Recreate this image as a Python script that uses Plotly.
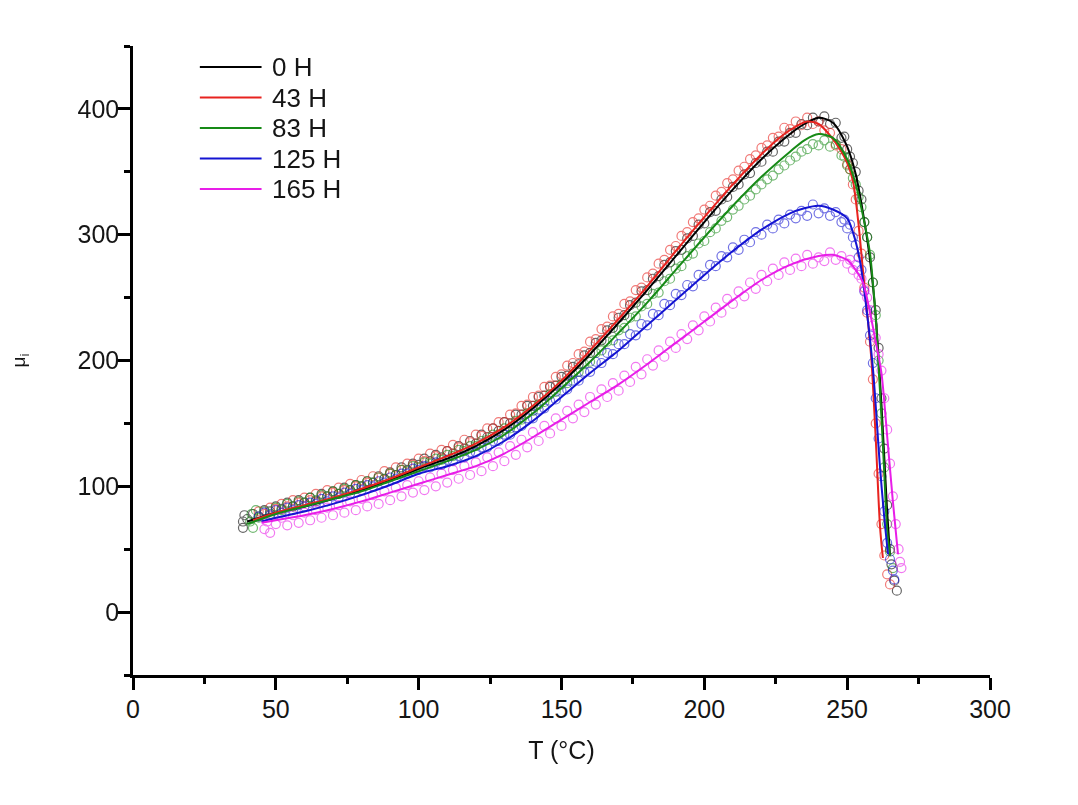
import plotly.graph_objects as go

# ---------------- data ----------------
labels = ["0 H", "43 H", "83 H", "125 H", "165 H"]
colors = ["#000000", "#e8231f", "#178a17", "#1414d2", "#e81ee8"]

# measured points (open circles)
T_0H = [38.5, 38.5, 39, 40, 42, 44, 46, 48, 50, 52, 54, 56, 58, 60, 62, 64, 66, 68, 70, 72, 74, 76, 78, 80, 82, 84, 86, 88, 90, 92, 94, 96, 98, 100, 102, 104, 106, 108, 110, 112, 114, 116, 118, 120, 122, 124, 126, 128, 130, 132, 134, 136, 138, 140, 142, 144, 146, 148, 150, 152, 154, 156, 158, 160, 162, 164, 166, 168, 170, 172, 174, 176, 178, 180, 182, 184, 186, 188, 190, 192, 194, 196, 198, 200, 202, 204, 206, 208, 210, 212, 214, 216, 218, 220, 222, 224, 226, 228, 230, 232, 234, 236, 238, 240, 242, 244, 246, 248, 249, 250, 251, 252, 253, 254, 255, 256, 257, 258, 259, 260, 261, 262, 263, 264, 265, 265.5, 266.5, 267.4]
MU_0H = [67, 72, 77, 74, 78, 76, 81, 80, 84, 82, 87, 84, 89, 87, 91, 88, 94, 92, 96, 94, 99, 97, 101, 100, 104, 103, 108, 106, 111, 109, 115, 113, 118, 117, 122, 120, 125, 123, 128, 126, 132, 130, 136, 134, 141, 139, 146, 144, 151, 150, 157, 157, 164, 164, 171, 172, 179, 180, 187, 188, 195, 197, 204, 206, 214, 216, 224, 226, 234, 236, 244, 246, 255, 256, 265, 267, 276, 278, 287, 288, 297, 299, 308, 309, 318, 319, 328, 330, 338, 340, 348, 349, 357, 358, 366, 366, 374, 374, 381, 381, 388, 387, 393, 390, 394, 388, 389, 377, 378, 368, 362, 357, 350, 335, 328, 310, 298, 282, 262, 240, 210, 170, 130, 85, 50, 38, 25, 17]

T_43H = [44, 46, 48, 50, 52, 54, 56, 58, 60, 62, 64, 66, 68, 70, 72, 74, 76, 78, 80, 82, 84, 86, 88, 90, 92, 94, 96, 98, 100, 102, 104, 106, 108, 110, 112, 114, 116, 118, 120, 122, 124, 126, 128, 130, 132, 134, 136, 138, 140, 142, 144, 146, 148, 150, 152, 154, 156, 158, 160, 162, 164, 166, 168, 170, 172, 174, 176, 178, 180, 182, 184, 186, 188, 190, 192, 194, 196, 198, 200, 202, 204, 206, 208, 210, 212, 214, 216, 218, 220, 222, 224, 226, 228, 230, 232, 234, 236, 238, 240, 242, 244, 246, 248, 250, 251, 252, 253, 254, 255, 256, 257, 258, 259, 260, 261, 262, 263, 264, 265]
MU_43H = [80, 78, 83, 82, 86, 84, 89, 87, 91, 89, 94, 92, 97, 95, 99, 97, 102, 100, 105, 103, 108, 107, 112, 110, 115, 113, 118, 117, 122, 120, 126, 124, 129, 128, 133, 131, 137, 135, 141, 140, 146, 146, 151, 151, 157, 158, 164, 165, 171, 172, 179, 180, 187, 189, 196, 198, 205, 207, 215, 217, 225, 227, 235, 237, 245, 247, 256, 258, 266, 269, 277, 280, 288, 291, 299, 302, 310, 313, 320, 323, 331, 334, 341, 344, 351, 354, 360, 363, 369, 371, 377, 378, 385, 384, 390, 387, 393, 388, 390, 383, 381, 371, 368, 356, 352, 340, 328, 303, 285, 258, 238, 215, 185, 150, 110, 70, 45, 30, 22]

T_83H = [41, 41.5, 42, 43, 44, 46, 48, 50, 52, 54, 56, 58, 60, 62, 64, 66, 68, 70, 72, 74, 76, 78, 80, 82, 84, 86, 88, 90, 92, 94, 96, 98, 100, 102, 104, 106, 108, 110, 112, 114, 116, 118, 120, 122, 124, 126, 128, 130, 132, 134, 136, 138, 140, 142, 144, 146, 148, 150, 152, 154, 156, 158, 160, 162, 164, 166, 168, 170, 172, 174, 176, 178, 180, 182, 184, 186, 188, 190, 192, 194, 196, 198, 200, 202, 204, 206, 208, 210, 212, 214, 216, 218, 220, 222, 224, 226, 228, 230, 232, 234, 236, 238, 240, 242, 244, 246, 248, 249, 250, 251, 252, 253, 254, 255, 256, 257, 258, 259, 260, 261, 262, 263, 264, 265, 266]
MU_83H = [72, 78, 67, 81, 75, 80, 78, 83, 81, 86, 84, 88, 87, 91, 89, 93, 92, 96, 94, 98, 97, 101, 100, 104, 103, 107, 106, 110, 109, 113, 112, 116, 115, 119, 118, 122, 121, 125, 124, 129, 128, 132, 132, 136, 137, 141, 141, 146, 146, 152, 153, 158, 160, 165, 167, 173, 175, 181, 182, 189, 191, 197, 199, 206, 208, 215, 216, 224, 226, 234, 235, 243, 245, 253, 254, 263, 265, 273, 275, 283, 285, 293, 295, 302, 305, 311, 314, 320, 323, 328, 331, 336, 340, 344, 347, 352, 355, 359, 362, 366, 368, 372, 371, 375, 370, 372, 363, 362, 355, 352, 345, 340, 330, 322, 310, 298, 284, 262, 236, 200, 158, 115, 70, 48, 35]

T_125H = [44, 46, 48, 50, 52, 54, 56, 58, 60, 62, 64, 66, 68, 70, 72, 74, 76, 78, 80, 82, 84, 86, 88, 90, 92, 94, 96, 98, 100, 102, 104, 106, 108, 110, 112, 114, 116, 118, 120, 122, 124, 126, 128, 130, 132, 134, 136, 138, 140, 142, 144, 146, 148, 150, 152, 154, 156, 158, 160, 162, 164, 166, 168, 170, 172, 174, 176, 178, 180, 182, 184, 186, 188, 190, 192, 194, 196, 198, 200, 202, 204, 206, 208, 210, 212, 214, 216, 218, 220, 222, 224, 226, 228, 230, 232, 234, 236, 238, 240, 242, 244, 246, 248, 249, 250, 251, 252, 253, 254, 255, 256, 257, 258, 259, 260, 261, 262, 263, 264, 265, 266, 266.5]
MU_125H = [76, 79, 77, 81, 79, 83, 81, 85, 84, 87, 86, 90, 88, 92, 91, 95, 94, 98, 97, 101, 100, 104, 103, 107, 106, 110, 110, 114, 113, 116, 115, 119, 117, 121, 120, 124, 123, 127, 127, 131, 131, 136, 136, 141, 141, 147, 148, 154, 154, 161, 162, 168, 169, 176, 177, 184, 184, 191, 191, 199, 198, 206, 205, 213, 213, 221, 220, 229, 228, 237, 236, 245, 244, 253, 252, 260, 259, 268, 267, 276, 275, 283, 282, 290, 288, 296, 294, 302, 300, 308, 305, 312, 309, 316, 313, 319, 315, 324, 317, 321, 315, 318, 310, 312, 305, 308, 298, 292, 282, 272, 255, 240, 220, 198, 170, 138, 108, 80, 55, 42, 33, 26]

T_165H = [46, 47, 48, 50, 52, 54, 56, 58, 60, 62, 64, 66, 68, 70, 72, 74, 76, 78, 80, 82, 84, 86, 88, 90, 92, 94, 96, 98, 100, 102, 104, 106, 108, 110, 112, 114, 116, 118, 120, 122, 124, 126, 128, 130, 132, 134, 136, 138, 140, 142, 144, 146, 148, 150, 152, 154, 156, 158, 160, 162, 164, 166, 168, 170, 172, 174, 176, 178, 180, 182, 184, 186, 188, 190, 192, 194, 196, 198, 200, 202, 204, 206, 208, 210, 212, 214, 216, 218, 220, 222, 224, 226, 228, 230, 232, 234, 236, 238, 240, 242, 244, 246, 248, 250, 251, 252, 253, 254, 255, 256, 257, 258, 259, 260, 261, 262, 263, 264, 265, 266, 267, 268, 268.5, 269]
MU_165H = [66, 72, 63, 70, 75, 69, 77, 71, 79, 73, 81, 75, 83, 77, 85, 79, 88, 81, 90, 84, 93, 86, 96, 89, 99, 92, 101, 95, 104, 97, 107, 100, 110, 103, 113, 106, 116, 109, 119, 112, 123, 116, 127, 120, 132, 125, 137, 131, 143, 136, 148, 142, 154, 148, 160, 154, 165, 159, 171, 165, 177, 171, 182, 176, 188, 183, 195, 189, 201, 196, 208, 203, 215, 210, 221, 217, 228, 224, 235, 231, 242, 238, 249, 245, 255, 251, 262, 257, 268, 263, 273, 268, 278, 272, 281, 275, 284, 277, 282, 279, 286, 280, 283, 277, 280, 272, 276, 268, 265, 256, 250, 240, 228, 218, 205, 192, 170, 145, 118, 92, 70, 50, 40, 35]

# fitted curves (solid lines)
T_fit_0H = [40, 50, 60, 70, 80, 90, 100, 110, 120, 130, 140, 150, 160, 170, 180, 190, 200, 210, 220, 230, 235, 240, 245, 250, 253, 255.5, 258, 260, 262, 264, 265]
MU_fit_0H = [72, 79, 84, 90, 97, 105, 114, 122, 132, 145, 162, 182, 205, 230, 256, 283, 310, 336, 360, 380, 388, 393, 389, 370, 348, 318, 280, 235, 165, 80, 45]

T_fit_43H = [42, 50, 60, 70, 80, 90, 100, 110, 120, 130, 140, 150, 160, 170, 180, 190, 200, 210, 220, 228, 232, 236, 240, 244, 248, 250, 252, 254, 255.5, 257, 258.5, 260, 261.5, 262.5]
MU_fit_43H = [73, 79, 85, 91, 98, 106, 115, 124, 134, 147, 164, 184, 208, 233, 259, 287, 314, 340, 364, 380, 386, 390, 388, 379, 366, 357, 343, 308, 272, 238, 200, 138, 68, 43]

T_fit_83H = [40, 50, 60, 70, 80, 90, 100, 110, 120, 130, 140, 150, 160, 170, 180, 190, 200, 210, 220, 230, 235, 240, 245, 250, 253, 256, 258, 259, 260, 261, 262, 263, 264, 265]
MU_fit_83H = [70, 78, 84, 90, 96, 104, 112, 120, 129, 141, 158, 178, 199, 222, 246, 272, 298, 323, 346, 366, 375, 380, 377, 360, 340, 310, 285, 262, 235, 195, 155, 110, 65, 45]

T_fit_125H = [45, 50, 60, 70, 80, 90, 100, 110, 120, 130, 140, 150, 160, 170, 180, 190, 200, 210, 220, 230, 235, 240, 245, 250, 252, 254.5, 256.5, 259, 261.5, 263, 264.3]
MU_fit_125H = [72, 75, 80, 86, 93, 101, 110, 116, 124, 136, 152, 171, 190, 208, 228, 248, 268, 287, 304, 317, 321, 323, 320, 313, 302, 279, 246, 194, 115, 75, 46]

T_fit_165H = [45, 50, 60, 70, 80, 90, 100, 110, 120, 130, 140, 150, 160, 170, 180, 190, 200, 210, 220, 230, 240, 245, 250, 252, 255.5, 258, 260, 262, 264, 266, 267.8]
MU_fit_165H = [71, 73, 77, 82, 88, 95, 102, 109, 116, 126, 139, 153, 167, 181, 197, 214, 231, 248, 264, 276, 283, 284, 280, 275, 262, 238, 215, 190, 140, 88, 46]

points_T = [T_0H, T_43H, T_83H, T_125H, T_165H]
points_MU = [MU_0H, MU_43H, MU_83H, MU_125H, MU_165H]
fit_T = [T_fit_0H, T_fit_43H, T_fit_83H, T_fit_125H, T_fit_165H]
fit_MU = [MU_fit_0H, MU_fit_43H, MU_fit_83H, MU_fit_125H, MU_fit_165H]

x_ticks = [0, 50, 100, 150, 200, 250, 300]
y_ticks = [0, 100, 200, 300, 400]

FONT = "Liberation Sans, Arial, sans-serif"
TXT = "#151515"

fig = go.Figure()

# open-circle data points first
for lab, col, tx, my in zip(labels, colors, points_T, points_MU):
    fig.add_trace(go.Scatter(
        x=tx, y=my, mode="markers", name=lab + " (data)", showlegend=False,
        opacity=0.6,
        marker=dict(symbol="circle-open", size=9, color=col, line=dict(width=1.2, color=col)),
    ))

# fitted lines on top
for lab, col, tx, my in zip(labels, colors, fit_T, fit_MU):
    fig.add_trace(go.Scatter(
        x=tx, y=my, mode="lines", name=lab, showlegend=False,
        line=dict(color=col, width=2, shape="spline", smoothing=0.8),
    ))

# legend box drawn as key lines + text (long key lines, tight rows as in the original)
LEG_X0, LEG_X1, LEG_TX = 0.078, 0.150, 0.160
LEG_Y0, LEG_DY = 0.9666, 0.0485
for i, (lab, col) in enumerate(zip(labels, colors)):
    yy = LEG_Y0 - i * LEG_DY
    fig.add_shape(type="line", xref="paper", yref="paper",
                  x0=LEG_X0, x1=LEG_X1, y0=yy, y1=yy,
                  line=dict(color=col, width=2))
    fig.add_annotation(xref="paper", yref="paper", x=LEG_TX, y=yy,
                       xanchor="left", yanchor="middle", showarrow=False,
                       text=lab, font=dict(family=FONT, size=26, color=TXT))

axis_common = dict(
    showline=True, linecolor="black", linewidth=2.5,
    ticks="outside", ticklen=12, tickwidth=2.5, tickcolor="black",
    showgrid=False, zeroline=False, mirror=False, automargin=False,
    tickfont=dict(family=FONT, size=25, color=TXT),
)

fig.update_xaxes(
    range=[0, 300], tickvals=x_ticks, **axis_common, ticklabelstandoff=-2,
    minor=dict(ticks="outside", ticklen=6, tickwidth=2.5, tickcolor="black", dtick=25, tick0=0),
    title=dict(text="T (°C)", font=dict(family=FONT, size=25, color=TXT), standoff=20),
)
fig.update_yaxes(
    range=[-50, 450], tickvals=y_ticks, **axis_common, ticklabelstandoff=-6,
    minor=dict(ticks="outside", ticklen=6, tickwidth=2.5, tickcolor="black", dtick=50, tick0=-50),
    title=dict(text="μ<sub>i</sub>", font=dict(family=FONT, size=19, color=TXT), standoff=52),
)

fig.update_layout(
    width=1078, height=805,
    margin=dict(l=125, r=96, t=38, b=138),
    plot_bgcolor="white", paper_bgcolor="white",
    showlegend=False,
)

fig.write_html("out.html")
